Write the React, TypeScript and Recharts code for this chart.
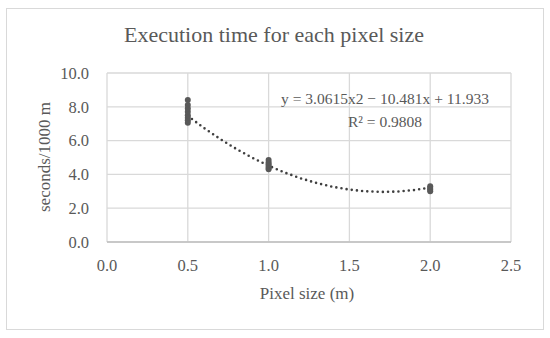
import { ScatterChart, Scatter, XAxis, YAxis, CartesianGrid } from 'recharts';

// measured execution times (seconds / 1000 m) per pixel size
const size05 = [7.05, 7.2, 7.35, 7.5, 7.7, 7.9, 8.1, 8.4];
const size10 = [4.3, 4.4, 4.5, 4.6, 4.7, 4.85];
const size20 = [3.0, 3.1, 3.2, 3.3];

// polynomial trendline as printed on the chart: a*x^2 + b*x + c
const trendCoef = [3.0615, -10.481, 11.933];
const trendX = [0.5, 0.6, 0.7, 0.8, 0.9, 1.0, 1.1, 1.2, 1.3, 1.4, 1.5, 1.6, 1.7, 1.8, 1.9, 2.0];

const xTicks = [0, 0.5, 1, 1.5, 2, 2.5];
const yTicks = [0, 2, 4, 6, 8, 10];

const points = [
  ...size05.map((y) => ({ x: 0.5, y })),
  ...size10.map((y) => ({ x: 1.0, y })),
  ...size20.map((y) => ({ x: 2.0, y })),
];
const trend = trendX.map((x) => ({ x, y: trendCoef[0] * x * x + trendCoef[1] * x + trendCoef[2] }));

const font = '"Liberation Serif", serif';
const grey = '#595959';

export default function App() {
  return (
    <div style={{ position: 'absolute', left: 0, top: 0, width: 550, height: 338, background: '#fff', fontFamily: font }}>
      <div style={{ position: 'absolute', left: 6, top: 8, width: 536, height: 320, border: '1px solid #d9d9d9' }} />
      <div style={{ position: 'absolute', left: 0, width: 548, top: 22, textAlign: 'center', fontSize: 22, color: grey }}>
        Execution time for each pixel size
      </div>
      <ScatterChart width={550} height={338} margin={{ top: 73, right: 39, bottom: 66, left: 0 }} style={{ position: 'absolute', left: 0, top: 0 }}>
        <CartesianGrid stroke="#d9d9d9" strokeWidth={1.3} />
        <XAxis
          type="number"
          dataKey="x"
          domain={[0, 2.5]}
          ticks={xTicks}
          tickFormatter={(v: number) => v.toFixed(1)}
          axisLine={{ stroke: '#bfbfbf', strokeWidth: 1.3 }}
          tickLine={false}
          tickMargin={11}
          tick={{ fill: grey, fontSize: 16.5, fontFamily: font }}
        />
        <YAxis
          type="number"
          dataKey="y"
          domain={[0, 10]}
          ticks={yTicks}
          width={107}
          tickFormatter={(v: number) => v.toFixed(1)}
          axisLine={false}
          tickLine={false}
          tickMargin={12}
          tick={{ fill: grey, fontSize: 16.5, fontFamily: font }}
        />
        <Scatter
          data={trend}
          line={{ stroke: '#404040', strokeWidth: 2.6, strokeDasharray: '0 5.2', strokeLinecap: 'round' }}
          lineType="joint"
          shape={() => null}
          isAnimationActive={false}
        />
        <Scatter data={points} fill={grey} shape={(p: any) => <circle cx={p.cx} cy={p.cy} r={3} fill={grey} />} isAnimationActive={false} />
      </ScatterChart>
      <div style={{ position: 'absolute', left: 245, width: 280, top: 87, textAlign: 'center', fontSize: 15.5, color: grey, lineHeight: '23px' }}>
        y = 3.0615x2 − 10.481x + 11.933
        <br />
        R² = 0.9808
      </div>
      <div style={{ position: 'absolute', left: 45, top: 157, fontSize: 17, color: grey, transform: 'translate(-50%, -50%) rotate(-90deg)', whiteSpace: 'nowrap' }}>
        seconds/1000 m
      </div>
      <div style={{ position: 'absolute', left: 307, top: 284, fontSize: 17, color: grey, transform: 'translateX(-50%)', whiteSpace: 'nowrap' }}>
        Pixel size (m)
      </div>
    </div>
  );
}
